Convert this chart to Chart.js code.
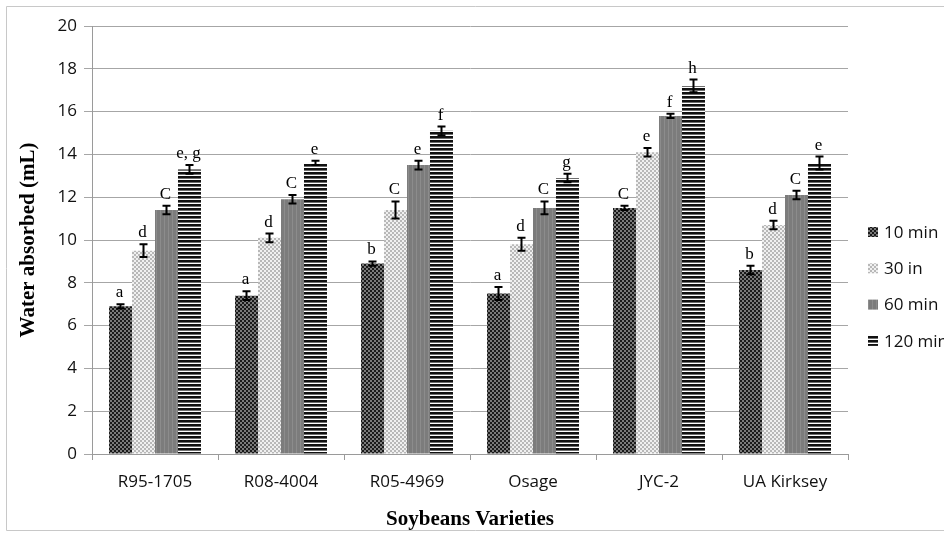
<!DOCTYPE html>
<html>
<head>
<meta charset="utf-8">
<script src="https://cdn.jsdelivr.net/npm/chart.js@4"></script>
<style>
  html, body { margin: 0; padding: 0; background: #fff; }
  #wrap { width: 944px; height: 536px; position: relative; }
</style>
</head>
<body>
<div id="wrap"><canvas id="myChart" width="944" height="536"></canvas></div>
<script>
// data
const varieties = ['R95-1705', 'R08-4004', 'R05-4969', 'Osage', 'JYC-2', 'UA Kirksey']
const seriesNames = ['10 min', '30 in', '60 min', '120 min']
const min10 = [6.9, 7.4, 8.9, 7.5, 11.5, 8.6]
const min30 = [9.5, 10.1, 11.4, 9.8, 14.1, 10.7]
const min60 = [11.4, 11.9, 13.5, 11.5, 15.8, 12.1]
const min120 = [13.3, 13.6, 15.1, 12.9, 17.2, 13.6]
const err10 = [0.1, 0.2, 0.1, 0.3, 0.1, 0.2]
const err30 = [0.3, 0.2, 0.4, 0.3, 0.2, 0.2]
const err60 = [0.2, 0.2, 0.2, 0.3, 0.1, 0.2]
const err120 = [0.2, 0.1, 0.2, 0.2, 0.3, 0.3]
const let10 = ['a', 'a', 'b', 'a', 'C', 'b']
const let30 = ['d', 'd', 'C', 'd', 'e', 'd']
const let60 = ['C', 'C', 'e', 'C', 'f', 'C']
const let120 = ['e, g', 'e', 'f', 'g', 'h', 'e']
const yTicks = [0, 2, 4, 6, 8, 10, 12, 14, 16, 18, 20]

// fill patterns like the old excel hatch fills
function makePattern(kind){
    let c = document.createElement('canvas')
    let g = c.getContext('2d')
    c.width=4; c.height=4
    if(kind==0){ // dark check
        g.fillStyle='#7a7a7a'; g.fillRect(0,0,4,4)
        g.fillStyle='#1a1a1a'
        g.fillRect(0,0,2,2); g.fillRect(2,2,2,2)
    }else if(kind==1){ // light dots
        g.fillStyle='#f0f0f0'; g.fillRect(0,0,4,4)
        g.fillStyle='#b8b8b8'
        g.fillRect(0,0,2,2); g.fillRect(2,2,2,2)
    }else if(kind==2){ // grey with faint vertical stripes
        g.fillStyle='#7c7c7c'; g.fillRect(0,0,4,4)
        g.fillStyle='#8c8c8c'; g.fillRect(0,0,1,4)
    }else{ // horizontal lines
        g.fillStyle='#ffffff'; g.fillRect(0,0,4,4)
        g.fillStyle='#111111'; g.fillRect(0,0,4,2.6)
    }
    return g.createPattern(c, 'repeat')
}
const fills = [makePattern(0), makePattern(1), makePattern(2), makePattern(3)]
const values = [min10, min30, min60, min120]
const errors = [err10, err30, err60, err120]
const letters = [let10, let30, let60, let120]

const datasets = seriesNames.map((name, i) => ({
    label: name,
    data: values[i],
    backgroundColor: fills[i],
    borderWidth: 0,
    categoryPercentage: 0.73,
    barPercentage: 1.0
}))

// error bars + letters above them
const errorBars = {
    id: 'errorBars',
    afterDatasetsDraw(chart){
        const ctx = chart.ctx
        const y = chart.scales.y
        ctx.save()
        for(let i=0; i<datasets.length; i++){
            const meta = chart.getDatasetMeta(i)
            meta.data.forEach((bar, j) => {
                const v = values[i][j], e = errors[i][j]
                const top = y.getPixelForValue(v+e)
                const bot = y.getPixelForValue(v-e)
                ctx.strokeStyle='#000'
                ctx.lineWidth=2
                ctx.beginPath()
                ctx.moveTo(bar.x, top); ctx.lineTo(bar.x, bot)
                ctx.moveTo(bar.x-4, top); ctx.lineTo(bar.x+4, top)
                ctx.moveTo(bar.x-4, bot); ctx.lineTo(bar.x+4, bot)
                ctx.stroke()
                ctx.fillStyle='#000'
                ctx.font='17px "Liberation Serif", serif'
                ctx.textAlign='center'
                ctx.textBaseline='alphabetic'
                ctx.fillText(letters[i][j], bar.x-1, top-7)
            })
        }
        ctx.restore()
    }
}

// right side legend + frame around the picture
const sideLegend = {
    id: 'sideLegend',
    beforeDraw(chart){
        const ctx = chart.ctx
        ctx.save()
        ctx.fillStyle='#fff'
        ctx.fillRect(0,0,chart.width,chart.height)
        ctx.strokeStyle='#c8c8c8'
        ctx.lineWidth=1
        ctx.beginPath()
        ctx.moveTo(6.5, 530.5); ctx.lineTo(6.5, 6.5); ctx.lineTo(944, 6.5)
        ctx.moveTo(6.5, 530.5); ctx.lineTo(944, 530.5)
        ctx.stroke()
        ctx.restore()
    },
    afterDraw(chart){
        const ctx = chart.ctx
        ctx.save()
        const x0 = 868, y0 = 232, step = 36.3
        chart.data.datasets.forEach((ds, i) => {
            const yy = y0 + i*step
            ctx.fillStyle = ds.backgroundColor
            ctx.fillRect(x0, yy-5, 10, 10)
            ctx.fillStyle='#111'
            ctx.font='17px "Open Sans", sans-serif'
            ctx.textBaseline='middle'
            ctx.textAlign='left'
            ctx.fillText(ds.label, x0+16, yy+1)
        })
        ctx.restore()
    }
}

const config = {
    type: 'bar',
    data: { labels: varieties, datasets: datasets },
    options: {
        responsive: false,
        animation: false,
        layout: { padding: { left: 0, right: 96, top: 26, bottom: 0 } },
        plugins: {
            legend: { display: false },
            tooltip: { enabled: false }
        },
        scales: {
            x: {
                grid: { display: true, drawOnChartArea: false, color: '#9a9a9a', tickLength: 6 },
                border: { color: '#9a9a9a' },
                ticks: { color: '#111', font: { family: 'Open Sans', size: 17 }, padding: 12 },
                title: { display: true, text: 'Soybeans Varieties', color: '#000',
                         font: { family: 'Liberation Serif', size: 21, weight: 'bold' }, padding: { top: 4, bottom: 4 } },
                afterFit(scale){ scale.height = 82 }
            },
            y: {
                min: 0, max: 20,
                afterBuildTicks(scale){ scale.ticks = yTicks.map(v => ({ value: v })) },
                grid: { color: '#a6a6a6', tickLength: 8 },
                border: { color: '#9a9a9a' },
                ticks: { color: '#111', font: { family: 'Open Sans', size: 17 }, padding: 7 },
                title: { display: true, text: 'Water absorbed (mL)', color: '#000',
                         font: { family: 'Liberation Serif', size: 21, weight: 'bold' }, padding: { top: 16, bottom: 4 } },
                afterFit(scale){ scale.width = 92 }
            }
        }
    },
    plugins: [errorBars, sideLegend]
}

var myChart = new Chart('myChart', config)
</script>
</body>
</html>
